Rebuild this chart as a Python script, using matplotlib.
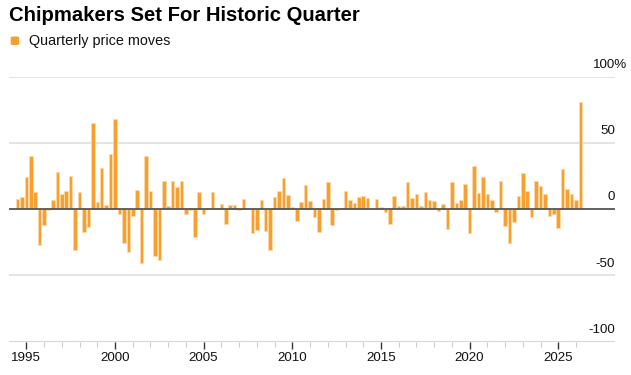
import matplotlib
matplotlib.use("Agg")
import matplotlib.pyplot as plt
import numpy as np
from matplotlib.patches import FancyBboxPatch

title = "Chipmakers Set For Historic Quarter"
legend_label = "Quarterly price moves"

# Quarterly price moves (%), one per quarter starting mid-1994
first_quarter = 1994.5
moves = [
    7.6, 8.8, 24.5, 39.9, 12.6, -26.8, -12.4, -1.0, 7.1, 28.0,
    11.6, 13.6, 24.7, -30.8, 13.1, -17.7, -13.4, 64.9, 5.6, 30.8,
    2.8, 41.2, 67.9, -3.5, -25.5, -32.3, -5.6, 14.4, -40.4, 39.9,
    13.9, -35.1, -38.6, 21.2, 2.3, 21.2, 16.7, 21.0, -4.0, -0.5,
    -21.0, 12.6, -3.8, 0.5, 13.1, 0.8, 3.8, -11.6, 2.8, 2.8,
    -0.5, 7.6, -0.3, -18.4, -15.7, 6.8, -16.4, -30.8, 8.8, 13.6,
    23.7, 10.4, 1.8, -9.3, 5.0, 17.9, 6.1, -6.1, -17.4, 7.6,
    20.2, -12.1, -1.0, 0.5, 13.6, 7.1, 4.5, 8.8, 9.6, 8.3,
    0.3, 7.6, 1.5, -2.0, -11.6, 9.8, 2.0, 2.3, 20.7, 8.6,
    11.4, 2.3, 13.1, 6.8, 6.1, -1.3, 3.8, -15.4, 20.7, 4.5,
    6.8, 18.7, -18.4, 32.3, 12.4, 24.5, 11.6, 7.1, -2.5, 21.0,
    -13.1, -25.5, -9.6, 9.8, 27.3, 13.6, -6.3, 21.5, 17.4, 11.4,
    -5.6, -3.5, -14.1, 30.0, 14.9, 11.1, 6.8, 80.8,
]
year_ticks = [1995, 2000, 2005, 2010, 2015, 2020, 2025]
minor_years = list(range(1995, 2027))
y_ticks = [-100, -50, 0, 50, 100]

W, H = 631, 375
fig = plt.figure(figsize=(W / 100, H / 100), dpi=100)
plt.rcParams['font.family'] = ['Liberation Sans', 'DejaVu Sans']

ax_l, ax_r = 9, 615
ax_t, ax_b = 76.5, 341.5
ax = fig.add_axes([ax_l / W, 1 - ax_b / H, (ax_r - ax_l) / W, (ax_b - ax_t) / H])

x = first_quarter + 0.25 * np.arange(len(moves))
orange = "#F7A030"
ax.bar(x, moves, width=0.2, color=orange, edgecolor="#FCD9A8", linewidth=0.6, zorder=3)

ax.set_xlim(1994.02, 2028.2)
ax.set_ylim(-100, 100)

for yv in y_ticks:
    if yv == 0:
        ax.axhline(0, color="#555555", lw=1.3, zorder=4)
    elif yv == -100:
        ax.axhline(yv, color="#cccccc", lw=1.2, zorder=1)
    else:
        ax.axhline(yv, color="#e2e2e2", lw=1.3, zorder=1)

for s in ax.spines.values():
    s.set_visible(False)
ax.set_yticks([])

ax.set_xticks(year_ticks)
ax.set_xticklabels([str(y) for y in year_ticks], fontsize=9.6, color="#111111")
ax.set_xticks(minor_years, minor=True)
ax.tick_params(axis='x', which='major', length=5, width=1.0, color="#333333", pad=2.5)
ax.tick_params(axis='x', which='minor', length=3.5, width=0.8, color="#cccccc")

renderer = fig.canvas.get_renderer()
for yv in y_ticks:
    yp = ax.transData.transform((0, yv))[1]
    fy = yp / H + 5.5 / H
    if yv == 100:
        t = fig.text(0, 0, "%", fontsize=9.6)
        pw = t.get_window_extent(renderer).width
        t.remove()
        fig.text((ax_r + pw) / W, fy, "100%", ha='right', va='bottom', fontsize=9.6, color="#111111")
    else:
        fig.text(ax_r / W, fy, str(yv), ha='right', va='bottom', fontsize=9.6, color="#111111")

fig.text(9 / W, 1 - 20.7 / H, title, ha='left', va='baseline', fontsize=14.6,
         fontweight='bold', color="#000000")
sq = FancyBboxPatch((10.7 / W, 1 - 45 / H), 8.5 / W, 8.5 / H,
                    boxstyle="round,pad=0,rounding_size=0.003", transform=fig.transFigure,
                    facecolor=orange, edgecolor='none')
fig.patches.append(sq)
fig.text(29 / W, 1 - 45 / H, legend_label, ha='left', va='baseline', fontsize=10.4,
         color="#111111")

fig.savefig("out.png", dpi=100)
